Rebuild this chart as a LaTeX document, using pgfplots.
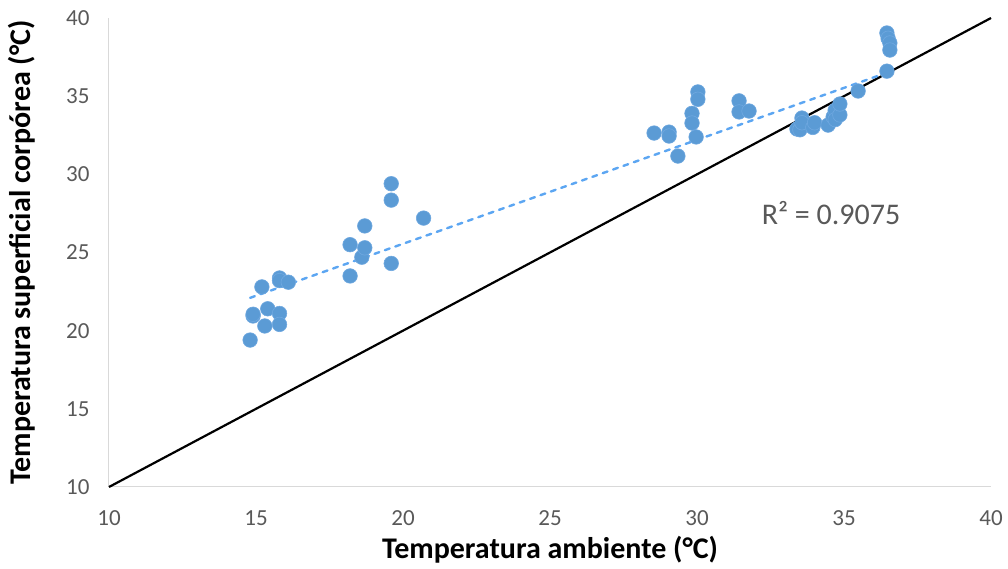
\documentclass[border=0pt]{standalone}
\usepackage{pgfplots}
\pgfplotsset{compat=1.18}
\usepackage{fontspec}
\setmainfont{Carlito}
\definecolor{ptblue}{HTML}{5B9BD5}
\definecolor{ptedge}{HTML}{6FA8E0}
\definecolor{trendblue}{HTML}{5CA6F2}
\definecolor{tickgray}{HTML}{595959}
\definecolor{axgray}{HTML}{D9D9D9}
\begin{document}
\begin{tikzpicture}
\begin{axis}[
  scale only axis,
  width=882pt, height=469pt,
  xmin=10, xmax=40, ymin=10, ymax=40,
  xtick={10,15,...,40}, ytick={10,15,...,40},
  axis x line=bottom, axis y line=left,
  axis line style={draw=axgray, line width=1pt, -},
  major tick length=0pt,
  tick label style={font=\fontsize{23}{23}\selectfont, text=tickgray},
  /pgf/number format/assume math mode=true,
  xticklabel style={anchor=center, yshift=-31pt},
  yticklabel style={anchor=east, xshift=-16pt},
  xlabel={\textbf{Temperatura ambiente (°C)}},
  ylabel={\textbf{Temperatura superficial corpórea (°C)}},
  label style={font=\fontsize{30}{30}\selectfont},
  xlabel style={at={(axis description cs:0.5,-0.1343)}, anchor=center},
  ylabel style={at={(axis description cs:-0.0986,0.5)}, anchor=center, rotate=0},
  clip=false,
]
\addplot[black, line width=2.2pt] coordinates {(10,10) (40,40)};
\addplot[trendblue, line width=2.4pt, line cap=round, dash pattern=on 5pt off 6pt] coordinates {(14.8,22.1) (36.46,36.5)};
\addplot[only marks, mark=*, mark size=7.3pt, mark options={fill=ptblue, draw=ptedge, line width=0.6pt}] coordinates {
(14.80,19.40) (14.90,20.94) (14.90,21.05) (15.20,22.80) (15.30,20.30) (15.40,21.40)
(15.80,23.37) (15.80,23.20) (15.80,21.10) (15.80,20.40) (16.10,23.10)
(18.20,25.50) (18.20,23.50) (18.60,24.70) (18.70,25.30) (18.70,26.70)
(19.60,29.40) (19.60,28.35) (19.60,24.30) (20.70,27.20)
(28.54,32.64) (29.05,32.70) (29.05,32.45) (29.35,31.17) (29.83,33.90) (29.83,33.28)
(29.97,32.39) (30.03,35.27) (30.03,34.80) (31.43,34.70) (31.43,33.99) (31.77,34.05)
(33.40,32.90) (33.50,32.85) (33.57,33.60) (33.57,33.30) (33.94,33.00) (34.00,33.30)
(34.46,33.15) (34.63,33.67) (34.70,34.10) (34.70,33.50) (34.86,33.80) (34.86,34.50)
(35.48,35.33) (36.46,36.60) (36.46,39.04) (36.50,38.70) (36.56,38.40) (36.56,37.95)
};
\node[font=\fontsize{30}{30}\selectfont, text=tickgray] at (axis cs:34.56,27.53) {R² = 0.9075};
\end{axis}
\path (current axis.south west) ++(-109pt,-82pt) rectangle ++(1008pt,569pt);
\end{tikzpicture}
\end{document}
